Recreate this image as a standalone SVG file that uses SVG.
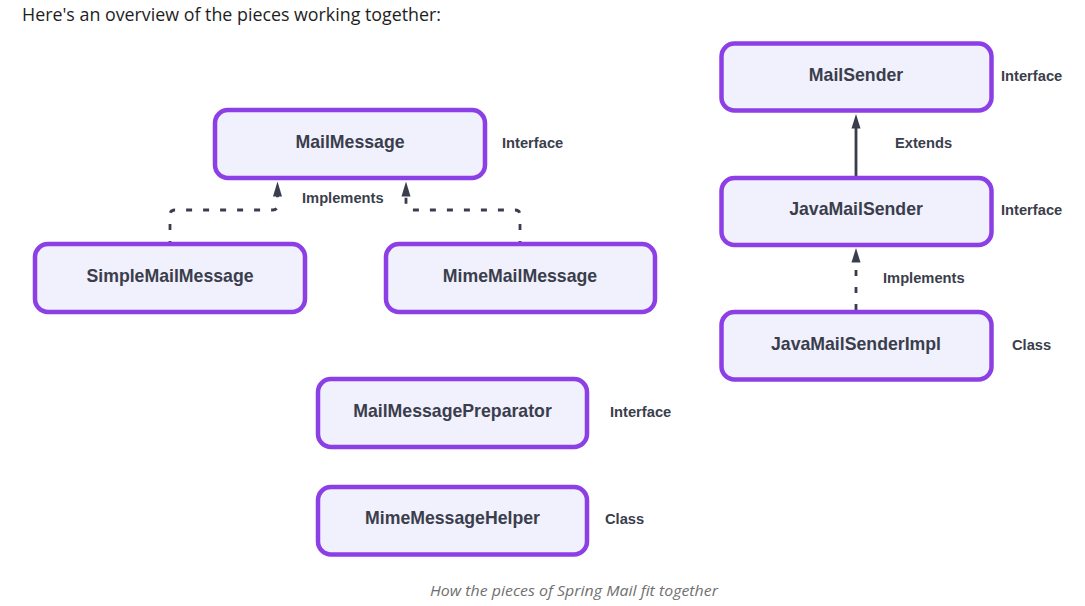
<svg xmlns="http://www.w3.org/2000/svg" width="1085" height="606" viewBox="0 0 1085 606">
<style>
.box{fill:#f1f0fd;stroke:#8d3fe6;stroke-width:4.5}
.nt{font-family:"Liberation Sans",Arial,sans-serif;font-weight:bold;font-size:17.7px;fill:#3a3e4c;text-anchor:middle}
.lb{font-family:"Liberation Sans",Arial,sans-serif;font-weight:bold;font-size:14.7px;fill:#3a3e4c}
.ln{fill:none;stroke:#3a3e4c;stroke-width:2.8}
.dash{stroke-dasharray:6 11}
.off{stroke-dashoffset:5}
.ah{fill:#3a3e4c}
</style>
<rect width="1085" height="606" fill="#ffffff"/>
<text x="22" y="21" font-family="'Open Sans','Noto Sans',sans-serif" font-size="18" fill="#1e1e1e" textLength="419" lengthAdjust="spacingAndGlyphs">Here's an overview of the pieces working together:</text>

<g id="connectors">
  <path class="ln dash off" d="M170,242 V215 Q170,210 175,210 H272.5 Q277.5,210 277.5,205 V196"/>
  <polygon class="ah" points="277.5,181.5 273,196.5 282,196.5"/>
  <path class="ln dash off" d="M520,242 V215 Q520,210 515,210 H411 Q406,210 406,205 V196"/>
  <polygon class="ah" points="406,181.5 401.5,196.5 410.5,196.5"/>
  <path class="ln" d="M856,176 V127"/>
  <polygon class="ah" points="856,114 851.5,128.5 860.5,128.5"/>
  <path class="ln dash" d="M856,310 V262"/>
  <polygon class="ah" points="856,248 851.5,262.5 860.5,262.5"/>
</g>

<g id="MailMessage"><rect class="box" x="215" y="110" width="270" height="68" rx="13"/><text class="nt" x="350" y="147.5">MailMessage</text></g>
<g id="SimpleMailMessage"><rect class="box" x="35" y="244" width="270" height="68" rx="13"/><text class="nt" x="170" y="281.7">SimpleMailMessage</text></g>
<g id="MimeMailMessage"><rect class="box" x="386" y="244" width="269" height="68" rx="13"/><text class="nt" x="520" y="281.7">MimeMailMessage</text></g>
<g id="MailSender"><rect class="box" x="721.5" y="43.5" width="270" height="67" rx="13"/><text class="nt" x="856" y="80.5">MailSender</text></g>
<g id="JavaMailSender"><rect class="box" x="721.5" y="178" width="270" height="67" rx="13"/><text class="nt" x="856" y="215">JavaMailSender</text></g>
<g id="JavaMailSenderImpl"><rect class="box" x="721.5" y="312" width="270" height="67.5" rx="13"/><text class="nt" x="856" y="350">JavaMailSenderImpl</text></g>
<g id="MailMessagePreparator"><rect class="box" x="318" y="379" width="269" height="68" rx="13"/><text class="nt" x="452.5" y="416.7">MailMessagePreparator</text></g>
<g id="MimeMessageHelper"><rect class="box" x="318" y="487" width="269" height="67.5" rx="13"/><text class="nt" x="452.5" y="524">MimeMessageHelper</text></g>

<g id="labels">
  <text class="lb" x="502" y="148">Interface</text>
  <text class="lb" x="302" y="203">Implements</text>
  <text class="lb" x="1001" y="80.7">Interface</text>
  <text class="lb" x="895" y="148">Extends</text>
  <text class="lb" x="1001" y="215">Interface</text>
  <text class="lb" x="883" y="283">Implements</text>
  <text class="lb" x="1012" y="350">Class</text>
  <text class="lb" x="610" y="416.7">Interface</text>
  <text class="lb" x="605" y="524">Class</text>
</g>

<text x="430" y="596" font-family="'Open Sans','Noto Sans',sans-serif" font-style="italic" font-size="15" fill="#707070" textLength="288" lengthAdjust="spacingAndGlyphs">How the pieces of Spring Mail fit together</text>
</svg>
